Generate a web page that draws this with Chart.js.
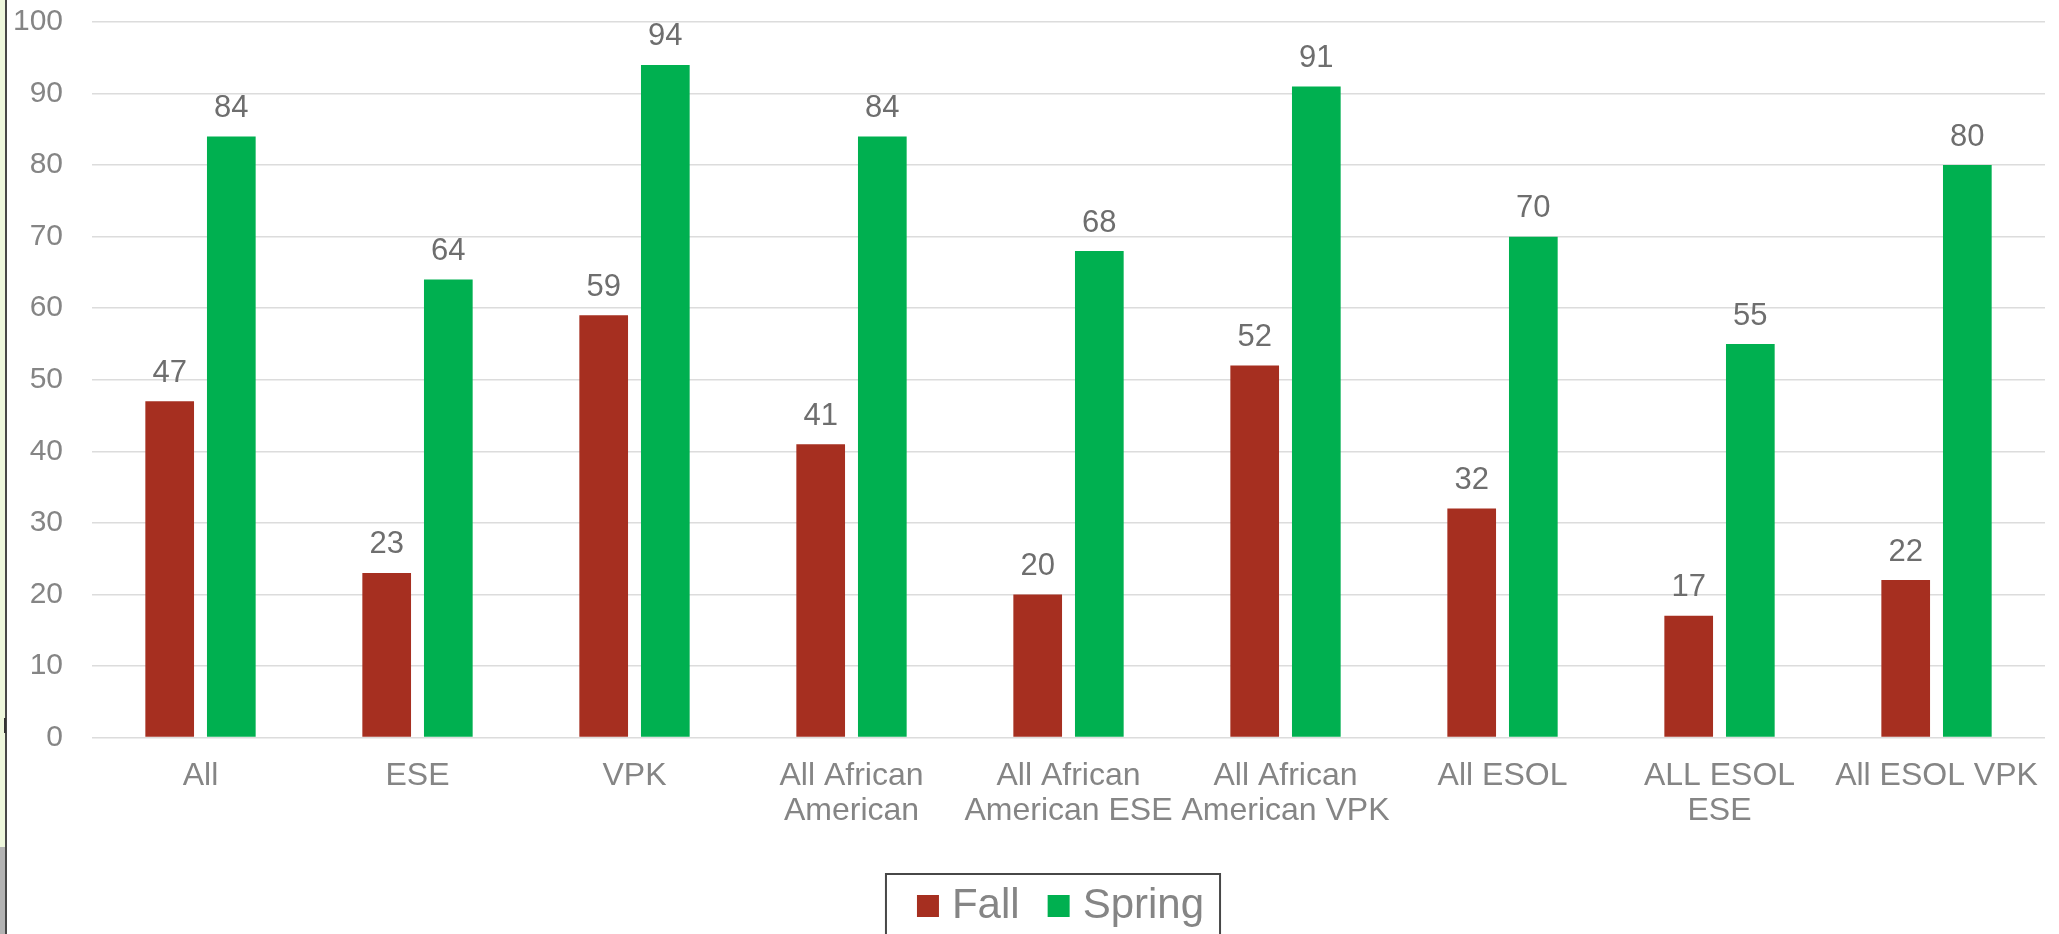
<!DOCTYPE html>
<html>
<head>
<meta charset="utf-8">
<script src="https://cdn.jsdelivr.net/npm/chart.js@4/dist/chart.umd.min.js"></script>
<style>
  html, body { margin: 0; padding: 0; background: #ffffff; }
  #wrap { position: relative; width: 2059px; height: 934px; overflow: hidden; }
  canvas { position: absolute; left: 0; top: 0; }
  .edge-fill { position: absolute; left: 0; top: 0; width: 5px; height: 847px; background: #eef7dc; }
  .edge-grey { position: absolute; left: 0; top: 847px; width: 5px; height: 87px; background: #b3b3b3; }
  .edge-line { position: absolute; left: 5px; top: 0; width: 2px; height: 934px; background: #474747; }
  .edge-mark { position: absolute; left: 4px; top: 718px; width: 2px; height: 15px; background: #333333; }
</style>
</head>
<body>
<div id="wrap">
  <canvas id="chart" width="2059" height="934"></canvas>
  <div class="edge-fill"></div>
  <div class="edge-grey"></div>
  <div class="edge-line"></div>
  <div class="edge-mark"></div>
</div>
<script>
// Groups shown along the x axis (multi-line labels as arrays)
const categories = [
  'All',
  'ESE',
  'VPK',
  ['All African', 'American'],
  ['All African', 'American ESE'],
  ['All African', 'American VPK'],
  'All ESOL',
  ['ALL ESOL', 'ESE'],
  'All ESOL VPK'
];

// Percentages per group
const fallValues   = [47, 23, 59, 41, 20, 52, 32, 17, 22];
const springValues = [84, 64, 94, 84, 68, 91, 70, 55, 80];

// Y axis range and step
const yTicks = { min: 0, max: 100, step: 10 };

const FALL_COLOR = '#A62F20';
const SPRING_COLOR = '#00B050';
const AXIS_TEXT = '#858585';
const VALUE_TEXT = '#6e6e6e';
const FONT = "'Liberation Sans', Arial, sans-serif";

// Writes each bar's value just above it
const valueLabels = {
  id: 'valueLabels',
  afterDatasetsDraw(chart) {
    const ctx = chart.ctx;
    ctx.save();
    ctx.font = '31px ' + FONT;
    ctx.fillStyle = VALUE_TEXT;
    ctx.textAlign = 'center';
    ctx.textBaseline = 'middle';
    chart.data.datasets.forEach((ds, di) => {
      const meta = chart.getDatasetMeta(di);
      meta.data.forEach((bar, i) => {
        ctx.fillText(String(ds.data[i]), bar.x, bar.y - 28);
      });
    });
    ctx.restore();
  }
};

// Moves the legend block a little to the right of the canvas centre
const legendShift = {
  id: 'legendShift',
  afterLayout(chart) {
    const lg = chart.legend;
    if (!lg) return;
    const dx = 36;
    lg.left += dx;
    lg.right += dx;
  }
};

// Outlines the legend with a thin frame
const legendFrame = {
  id: 'legendFrame',
  afterDraw(chart) {
    const lg = chart.legend;
    if (!lg || !lg.legendHitBoxes || !lg.legendHitBoxes.length) return;
    const boxes = lg.legendHitBoxes;
    const first = boxes[0];
    const last = boxes[boxes.length - 1];
    const left = first.left - 39;
    const right = last.left + last.width + 16;
    const top = first.top - 11;
    const ctx = chart.ctx;
    ctx.save();
    ctx.strokeStyle = '#474747';
    ctx.lineWidth = 2;
    ctx.strokeRect(left, top, right - left, chart.height + 20 - top);
    ctx.restore();
  }
};

new Chart(document.getElementById('chart'), {
  type: 'bar',
  data: {
    labels: categories,
    datasets: [
      {
        label: 'Fall',
        data: fallValues,
        backgroundColor: FALL_COLOR,
        borderWidth: 0,
        categoryPercentage: 0.568,
        barPercentage: 0.79
      },
      {
        label: 'Spring',
        data: springValues,
        backgroundColor: SPRING_COLOR,
        borderWidth: 0,
        categoryPercentage: 0.568,
        barPercentage: 0.79
      }
    ]
  },
  options: {
    responsive: false,
    animation: false,
    devicePixelRatio: 1,
    layout: { padding: { top: 22, right: 2, bottom: -3, left: 0 } },
    plugins: {
      tooltip: { enabled: false },
      legend: {
        position: 'bottom',
        align: 'center',
        labels: {
          usePointStyle: true,
          pointStyle: 'rect',
          boxWidth: 6,
          boxHeight: 22,
          padding: 36,
          color: AXIS_TEXT,
          font: { family: FONT, size: 42 }
        }
      }
    },
    scales: {
      x: {
        grid: { display: false, drawTicks: false },
        border: { display: false },
        ticks: {
          color: AXIS_TEXT,
          padding: 21,
          maxRotation: 0,
          autoSkip: false,
          font: { family: FONT, size: 32, lineHeight: 1.1 }
        },
        afterFit(scale) { scale.height = 111.5; }
      },
      y: {
        min: yTicks.min,
        max: yTicks.max,
        grid: {
          color: '#dcdcdc',
          lineWidth: 1.5,
          drawTicks: true,
          tickLength: 29,
          tickColor: 'rgba(0,0,0,0)'
        },
        border: { display: false },
        ticks: {
          stepSize: yTicks.step,
          color: AXIS_TEXT,
          padding: 0,
          font: { family: FONT, size: 30 }
        },
        afterFit(scale) { scale.width = 92; }
      }
    }
  },
  plugins: [valueLabels, legendShift, legendFrame]
});
</script>
</body>
</html>
